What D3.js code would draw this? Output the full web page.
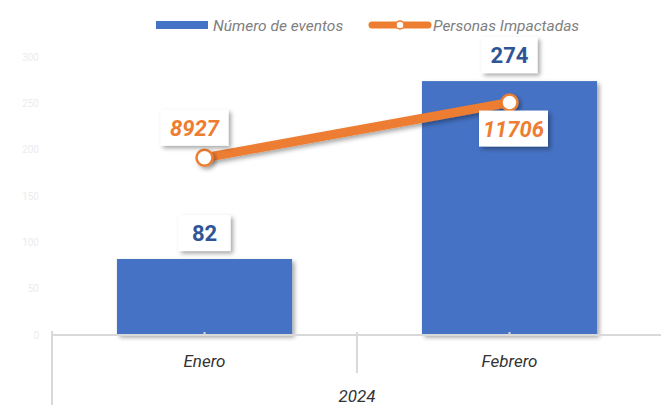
<!DOCTYPE html>
<html>
<head>
<meta charset="utf-8">
<script src="https://cdn.jsdelivr.net/npm/d3@7"></script>
<style>
  body { margin: 0; background: #fff; }
  svg { display: block; font-family: Roboto, "Liberation Sans", sans-serif; }
</style>
</head>
<body>
<div id="chart"></div>
<script>
const months = ['Enero', 'Febrero'];
const year = '2024';
const eventos = [82, 274];
const personas = [8927, 11706];
const leftTicks = [0, 50, 100, 150, 200, 250, 300];

const W = 661, H = 405;
const m = { top: 57, left: 52, right: -1, bottom: 70 };
const width = W - m.left - m.right, height = H - m.top - m.bottom;

const svg = d3.select('#chart').append('svg').attr('width', W).attr('height', H);
const defs = svg.append('defs');
const f = defs.append('filter').attr('id', 'shadow').attr('x', '-20%').attr('y', '-20%').attr('width', '150%').attr('height', '160%');
f.append('feDropShadow').attr('dx', 2.5).attr('dy', 2.5).attr('stdDeviation', 2).attr('flood-color', '#000').attr('flood-opacity', 0.35);

const g = svg.append('g').attr('transform', `translate(${m.left},${m.top})`);

const x = d3.scaleBand().domain(months).range([0, width]).paddingInner(0).paddingOuter(0);
const y = d3.scaleLinear().domain([0, 300]).range([height, 0]);
const y2 = d3.scaleLinear().domain([0, 14000]).range([height, 0]);
const barW = x.bandwidth() * 0.574;

// left axis labels, very faint
g.append('g').call(d3.axisLeft(y).tickValues(leftTicks).tickSize(0).tickPadding(13))
  .call(a => a.select('.domain').remove())
  .selectAll('text').attr('fill', '#ececec').attr('font-size', 10).attr('font-family', 'Roboto, sans-serif');

// bars
g.selectAll('.bar').data(eventos).enter().append('rect')
  .attr('x', (d, i) => x(months[i]) + (x.bandwidth() - barW) / 2)
  .attr('y', d => y(d)).attr('width', barW).attr('height', d => height - y(d))
  .attr('fill', '#4472c4').attr('filter', 'url(#shadow)');

// category axis
const axisC = '#d9d9d9';
g.append('line').attr('x1', 0).attr('x2', width).attr('y1', height).attr('y2', height).attr('stroke', axisC).attr('stroke-width', 2);
g.append('line').attr('x1', 0).attr('x2', 0).attr('y1', height - 4).attr('y2', H - m.top).attr('stroke', axisC).attr('stroke-width', 2);
g.append('line').attr('x1', x('Febrero')).attr('x2', x('Febrero')).attr('y1', height - 3).attr('y2', height + 38).attr('stroke', axisC).attr('stroke-width', 2);
g.selectAll('.mtick').data(months).enter().append('line')
  .attr('x1', d => x(d) + x.bandwidth() / 2).attr('x2', d => x(d) + x.bandwidth() / 2)
  .attr('y1', height - 3).attr('y2', height + 1).attr('stroke', axisC).attr('stroke-width', 2);
g.selectAll('.mlab').data(months).enter().append('text')
  .attr('x', d => x(d) + x.bandwidth() / 2).attr('y', height + 32)
  .attr('text-anchor', 'middle').attr('font-style', 'italic').attr('font-size', 17).attr('fill', '#333').text(d => d);
g.append('text').attr('x', x('Febrero')).attr('y', height + 67).attr('text-anchor', 'middle')
  .attr('font-style', 'italic').attr('font-size', 17).attr('fill', '#333').text(year);

// line
const cx = (d, i) => x(months[i]) + x.bandwidth() / 2;
const line = d3.line().x(cx).y(d => y2(d));
g.append('path').datum(personas).attr('d', line).attr('fill', 'none')
  .attr('stroke', '#ed7d31').attr('stroke-width', 9).attr('filter', 'url(#shadow)');
g.selectAll('.pt').data(personas).enter().append('circle')
  .attr('cx', cx).attr('cy', d => y2(d)).attr('r', 8)
  .attr('fill', '#fff').attr('stroke', '#ed7d31').attr('stroke-width', 2.5).attr('filter', 'url(#shadow)');

// data labels
function label(cxp, cyp, w, txt, color, italic) {
  const lg = g.append('g');
  lg.append('rect').attr('x', cxp - w / 2).attr('y', cyp - 18).attr('width', w).attr('height', 36)
    .attr('fill', '#fff').attr('filter', 'url(#shadow)');
  lg.append('text').attr('x', cxp).attr('y', cyp + 8).attr('text-anchor', 'middle')
    .attr('font-size', 22).attr('font-weight', 'bold').attr('font-style', italic ? 'italic' : 'normal')
    .attr('fill', color).text(txt);
}
eventos.forEach((d, i) => label(cx(d, i), y(d) - 26, 44 + String(d).length * 4, d, '#2f5597', false));
label(cx(0, 0) - 10, y2(personas[0]) - 30, 68, personas[0], '#ed7d31', true);
label(cx(0, 1) + 4, y2(personas[1]) + 26, 69, personas[1], '#ed7d31', true);

// legend
const lg = svg.append('g').attr('transform', 'translate(0,25)');
lg.append('rect').attr('x', 156).attr('y', -4).attr('width', 52).attr('height', 8).attr('fill', '#4472c4');
lg.append('text').attr('x', 213).attr('y', 5.5).attr('font-size', 15.5).attr('font-style', 'italic').attr('fill', '#808080').text('Número de eventos');
lg.append('line').attr('x1', 372).attr('x2', 428).attr('stroke', '#ed7d31').attr('stroke-width', 7).attr('stroke-linecap', 'round');
lg.append('circle').attr('cx', 400).attr('r', 4).attr('fill', '#fff').attr('stroke', '#ed7d31').attr('stroke-width', 1.5);
lg.append('text').attr('x', 433).attr('y', 5.5).attr('font-size', 15.5).attr('font-style', 'italic').attr('fill', '#808080').text('Personas Impactadas');
</script>
</body>
</html>
